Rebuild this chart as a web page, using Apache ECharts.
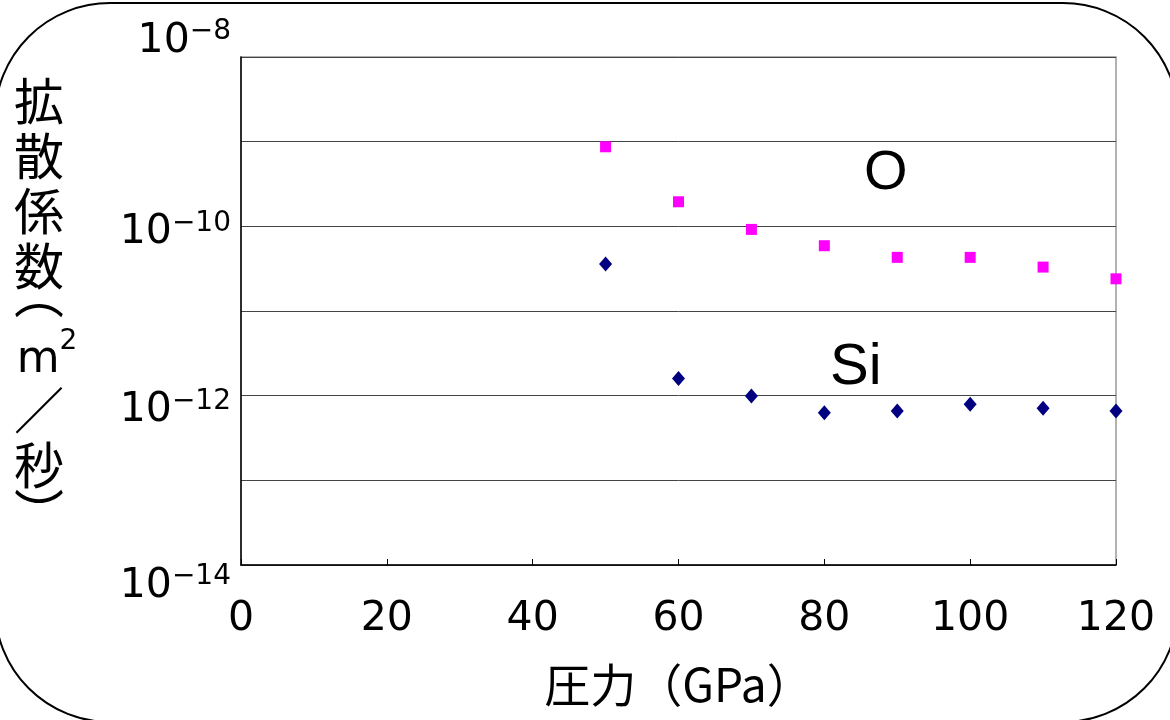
<!DOCTYPE html>
<html>
<head>
<meta charset="utf-8">
<script src="https://cdn.jsdelivr.net/npm/echarts@6/dist/echarts.min.js"></script>
<style>
  html, body { margin: 0; padding: 0; background: #fff; }
  #chart { width: 1170px; height: 720px; }
</style>
</head>
<body>
<div id="chart"></div>
<script>
  // data
  const pressure = [50, 60, 70, 80, 90, 100, 110, 120];
  const oValues = [8.7e-10, 1.95e-10, 9.2e-11, 5.9e-11, 4.3e-11, 4.3e-11, 3.3e-11, 2.4e-11];
  const siValues = [3.6e-11, 1.6e-12, 9.9e-13, 6.3e-13, 6.6e-13, 7.9e-13, 7.1e-13, 6.6e-13];
  const yLabelExps = [-8, -10, -12, -14];
  const xTicks = [0, 20, 40, 60, 80, 100, 120];

  // vertical nudge of each y label (px, + is down), the original labels drift
  const yLabelShift = { 8: -16, 10: 6, 12: 15, 14: 21 };

  const chart = echarts.init(document.getElementById("chart"));
  const cjk = "Noto Sans CJK JP";

  let rich = {
    b: { fontSize: 41, fontFamily: "DejaVu Sans", color: "#000", lineHeight: 46 },
    s: { fontSize: 28, fontFamily: "DejaVu Sans", color: "#000", lineHeight: 26, verticalAlign: "top" },
  };
  yLabelExps.forEach(function (e) {
    let k = -e;
    rich["g" + k] = { fontSize: 1, lineHeight: Math.abs(yLabelShift[k]) * 2 };
  });

  // vertical axis title, one glyph per line
  const yName = [
    "{c|拡}", "{c|散}", "{c|係}", "{c|数}",
    "{p|︵}", "{sp|.}",
    "{ml|.}{m|m}{sup|2}",
    "{c|／}", "{c|秒}",
    "{q|︶}", "{tail|.}",
  ].join("\n");

  let option = {
    animation: false,
    backgroundColor: "#fff",
    grid: {
      left: 241,
      right: 54,
      top: 57,
      bottom: 155,
      outerBoundsMode: "none",
      show: true,
      borderColor: "#999",
      borderWidth: 1.5,
    },
    xAxis: {
      type: "value",
      min: 0,
      max: 120,
      interval: 20,
      name: "圧力（GPa）",
      nameLocation: "middle",
      nameGap: 97,
      nameTextStyle: { fontSize: 46, fontFamily: cjk, color: "#000" },
      axisLine: { lineStyle: { color: "#000", width: 1.5 } },
      axisTick: { show: true, inside: true, length: 6, lineStyle: { color: "#000" } },
      splitLine: { show: false },
      axisLabel: {
        fontSize: 41,
        fontFamily: "DejaVu Sans",
        color: "#000",
        lineHeight: 44,
        margin: 32,
        formatter: function (v) {
          return xTicks.indexOf(v) >= 0 ? String(v) : "";
        },
      },
    },
    yAxis: {
      type: "log",
      logBase: 10,
      min: 1e-14,
      max: 1e-8,
      splitNumber: 6,
      name: yName,
      nameLocation: "middle",
      nameGap: 202,
      nameRotate: 0,
      nameTextStyle: {
        align: "center",
        verticalAlign: "middle",
        rich: {
          c: { fontSize: 50, fontFamily: cjk, color: "#000", lineHeight: 55 },
          p: { fontSize: 50, fontFamily: cjk, color: "#000", lineHeight: 1 },
          sp: { fontSize: 1, lineHeight: 33.5, color: "transparent" },
          ml: { fontSize: 1, lineHeight: 1, width: 16, color: "transparent" },
          m: { fontSize: 44, fontFamily: "DejaVu Sans", color: "#000", lineHeight: 54.5, verticalAlign: "bottom" },
          sup: { fontSize: 28, fontFamily: "DejaVu Sans", color: "#000", lineHeight: 30, verticalAlign: "top" },
          q: { fontSize: 50, fontFamily: cjk, color: "#000", lineHeight: 41 },
          tail: { fontSize: 1, lineHeight: 15, color: "transparent" },
        },
      },
      axisLine: { show: true, lineStyle: { color: "#000", width: 1.5 } },
      axisTick: { show: false },
      splitLine: { show: true, lineStyle: { color: "#444", width: 1 } },
      axisLabel: {
        margin: 10,
        rich: rich,
        formatter: function (v) {
          let e = Math.round(Math.log10(v));
          if (yLabelExps.indexOf(e) < 0) return "";
          let k = -e;
          let txt = "{b|10}{s|−" + k + "}";
          let gap = "{g" + k + "| }";
          return yLabelShift[k] > 0 ? gap + "\n" + txt : txt + "\n" + gap;
        },
      },
    },
    series: [
      {
        name: "O",
        type: "scatter",
        symbol: "rect",
        symbolSize: 11,
        itemStyle: { color: "#FF00FF", opacity: 1 },
        data: pressure.map(function (p, i) { return [p, oValues[i]]; }),
      },
      {
        name: "Si",
        type: "scatter",
        symbol: "diamond",
        symbolSize: [13, 15],
        itemStyle: { color: "#000080", opacity: 1 },
        data: pressure.map(function (p, i) { return [p, siValues[i]]; }),
      },
    ],
    graphic: [
      {
        type: "rect",
        shape: { x: -5, y: 3, width: 1183, height: 719, r: 115 },
        style: { fill: "none", stroke: "#000", lineWidth: 2 },
        silent: true,
      },
      {
        type: "text",
        left: 864,
        top: 146,
        style: { text: "O", fontSize: 56, fontFamily: "Liberation Sans", fill: "#000" },
      },
      {
        type: "text",
        left: 830,
        top: 339,
        style: { text: "Si", fontSize: 58, fontFamily: "Liberation Sans", fill: "#000" },
      },
    ],
  };

  chart.setOption(option);
</script>
</body>
</html>
